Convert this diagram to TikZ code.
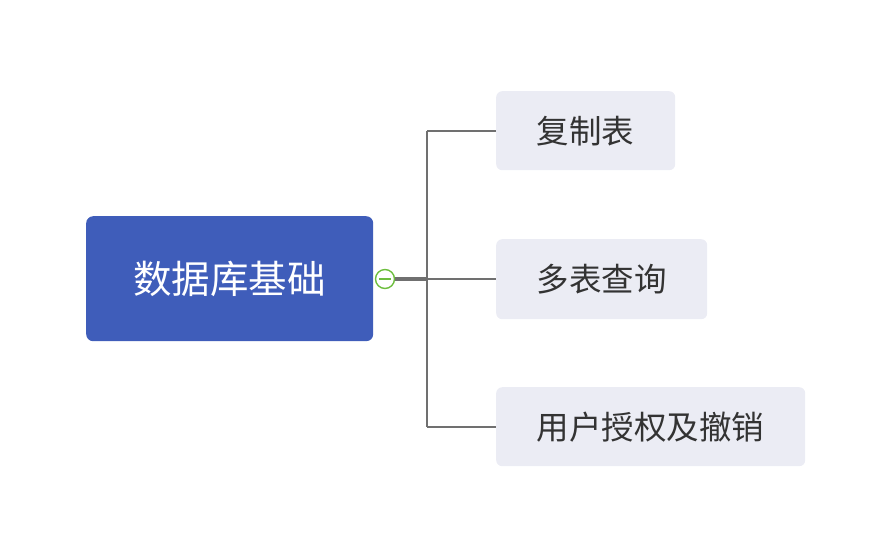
\documentclass[tikz,border=0pt]{standalone}
\usepackage{fontspec}
\newfontfamily\cjk{Noto Sans CJK SC}
\definecolor{mainblue}{HTML}{3F5DBA}
\definecolor{childbg}{HTML}{EBECF4}
\definecolor{linegray}{HTML}{707070}
\definecolor{txtgray}{HTML}{333333}
\definecolor{togglegreen}{HTML}{6DBE3E}
\begin{document}
\begin{tikzpicture}[x=1pt,y=-1pt,
  rootbox/.style={fill=mainblue,rounded corners=7pt,text=white,font=\cjk\fontsize{38.5}{42}\selectfont,inner sep=0pt,anchor=north west},
  childbox/.style={fill=childbg,rounded corners=6pt,text=txtgray,font=\cjk\fontsize{32.5}{36}\selectfont,inner sep=0pt,anchor=north west},
  conn/.style={draw=linegray,line width=2.4pt}]
\useasboundingbox (0,0) rectangle (892,542);
\node[rootbox,minimum width=287pt,minimum height=125pt] (root) at (86,216) {数据库基础};
\node[childbox,minimum width=179pt,minimum height=79pt] (c1) at (496,91) {复制表};
\node[childbox,minimum width=211pt,minimum height=80pt] (c2) at (496,239) {多表查询};
\node[childbox,minimum width=309pt,minimum height=79pt] (c3) at (496,387) {用户授权及撤销};
\coordinate (j) at (427,279);
\coordinate (j1) at (427,131);
\coordinate (j3) at (427,427);
\node[circle,draw=togglegreen,fill=white,line width=1.4pt,minimum size=19pt,inner sep=0pt] (tog) at (385,279) {};
\draw[togglegreen,line width=1.4pt] ([xshift=-6pt]tog.center) -- ([xshift=6pt]tog.center);
\draw[draw=linegray,line width=3.2pt] (tog.east) -- (j);
\draw[conn] (j1) -- (j3);
\draw[conn] (j1) -- (c1.west |- j1);
\draw[conn] (j) -- (c2.west |- j);
\draw[conn] (j3) -- (c3.west |- j3);
\end{tikzpicture}
\end{document}
